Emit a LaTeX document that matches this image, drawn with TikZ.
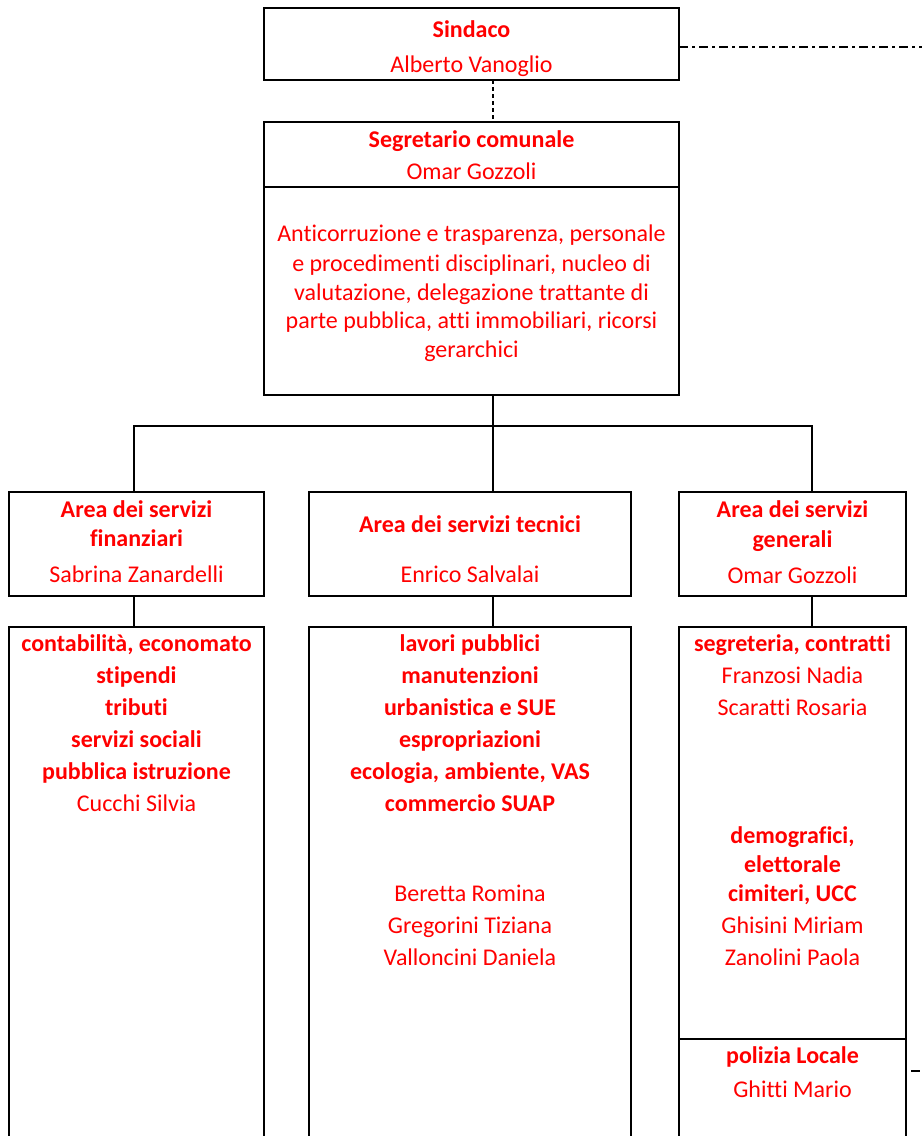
\documentclass[tikz,border=0pt]{standalone}
\usepackage{fontspec}
\setmainfont{Carlito}[Ligatures={NoCommon}]
\begin{document}
\begin{tikzpicture}[x=1pt,y=-1pt,
  box/.style={draw, line width=2pt, rectangle, inner sep=0pt, outer sep=0pt},
  conn/.style={line width=2pt},
  ln/.style={anchor=base, inner sep=0pt, text=red, font=\fontsize{24}{29}\selectfont},
  lb/.style={anchor=base, inner sep=0pt, text=red, font=\fontsize{24}{29}\selectfont\bfseries}]
\clip (0,0) rectangle (922,1136);
\fill[white] (0,0) rectangle (922,1136);
% boxes
\node[box, minimum width=415pt, minimum height=72pt] (sind) at (471.5,44) {};
\node[box, minimum width=415pt, minimum height=273pt] (seg) at (471.5,258.5) {};
\draw[conn] ([yshift=-65pt]seg.north west) -- ([yshift=-65pt]seg.north east);
\node[box, minimum width=255pt, minimum height=104pt] (fin) at (136.5,544) {};
\node[box, minimum width=322pt, minimum height=104pt] (tec) at (470,544) {};
\node[box, minimum width=227pt, minimum height=104pt] (gen) at (792.5,544) {};
\node[box, minimum width=255pt, minimum height=523pt] (finb) at (136.5,888.5) {};
\node[box, minimum width=322pt, minimum height=523pt] (tecb) at (470,888.5) {};
\node[box, minimum width=227pt, minimum height=523pt] (genb) at (792.5,888.5) {};
\draw[conn] ([yshift=-412pt]genb.north west) -- ([yshift=-412pt]genb.north east);
% connectors
\coordinate (cl) at (134,426);
\coordinate (cm) at (493,426);
\coordinate (cr) at (812,426);
\draw[conn, dash pattern=on 4pt off 3pt] (sind.south -| cm) -- (seg.north -| cm);
\draw[conn] (seg.south -| cm) -- (cm);
\draw[conn] (fin.north -| cl) -- (cl) -- (cr) -- (gen.north -| cr);
\draw[conn] (cm) -- (tec.north -| cm);
\draw[conn] (fin.south -| cl) -- (finb.north -| cl);
\draw[conn] (tec.south -| cm) -- (tecb.north -| cm);
\draw[conn] (gen.south -| cr) -- (genb.north -| cr);
\coordinate (ee) at (922,47);
\draw[line width=2.5pt, dash pattern=on 9pt off 4pt on 3pt off 4pt] (sind.east |- ee) -- (ee);
\coordinate (k1) at (911,1071);
\coordinate (k2) at (920,1071);
\draw[conn] (k1) -- (k2);
% texts
\node[lb] (s1) at (471.5,37) {Sindaco};
\node[ln] (s2) at (471.5,72) {Alberto Vanoglio};
\node[lb] (g1) at (471.5,147) {Segretario comunale};
\node[ln] (g2) at (471.5,179) {Omar Gozzoli};
\node[ln] (p1) at (471.5,241) {Anticorruzione e trasparenza, personale};
\node[ln] (p2) at (471.5,271) {e procedimenti disciplinari, nucleo di};
\node[ln] (p3) at (471.5,300) {valutazione, delegazione trattante di};
\node[ln] (p4) at (471.5,328) {parte pubblica, atti immobiliari, ricorsi};
\node[ln] (p5) at (471.5,357) {gerarchici};
\node[lb] (f1) at (136.5,517) {Area dei servizi};
\node[lb] (f2) at (136.5,546) {finanziari};
\node[ln] (f3) at (136.5,582) {Sabrina Zanardelli};
\node[lb] (c1) at (470,532) {Area dei servizi tecnici};
\node[ln] (c2) at (470,582) {Enrico Salvalai};
\node[lb] (r1) at (792.5,517) {Area dei servizi};
\node[lb] (r2) at (792.5,547) {generali};
\node[ln] (r3) at (792.5,583) {Omar Gozzoli};
% left bottom
\node[lb] (a1) at (136.5,651) {contabilità, economato};
\node[lb] (a2) at (136.5,683) {stipendi};
\node[lb] (a3) at (136.5,715) {tributi};
\node[lb] (a4) at (136.5,747) {servizi sociali};
\node[lb] (a5) at (136.5,779) {pubblica istruzione};
\node[ln] (a6) at (136.5,811) {Cucchi Silvia};
% middle bottom
\node[lb] (b1) at (470,651) {lavori pubblici};
\node[lb] (b2) at (470,683) {manutenzioni};
\node[lb] (b3) at (470,715) {urbanistica e SUE};
\node[lb] (b4) at (470,747) {espropriazioni};
\node[lb] (b5) at (470,779) {ecologia, ambiente, VAS};
\node[lb] (b6) at (470,811) {commercio SUAP};
\node[ln] (b7) at (470,901) {Beretta Romina};
\node[ln] (b8) at (470,933) {Gregorini Tiziana};
\node[ln] (b9) at (470,965) {Valloncini Daniela};
% right bottom
\node[lb] (d1) at (792.5,651) {segreteria, contratti};
\node[ln] (d2) at (792.5,683) {Franzosi Nadia};
\node[ln] (d3) at (792.5,715) {Scaratti Rosaria};
\node[lb] (d4) at (792.5,843) {demografici,};
\node[lb] (d5) at (792.5,872) {elettorale};
\node[lb] (d6) at (792.5,901) {cimiteri, UCC};
\node[ln] (d7) at (792.5,933) {Ghisini Miriam};
\node[ln] (d8) at (792.5,965) {Zanolini Paola};
\node[lb] (d9) at (792.5,1063) {polizia Locale};
\node[ln] (d10) at (792.5,1097) {Ghitti Mario};
\end{tikzpicture}
\end{document}
